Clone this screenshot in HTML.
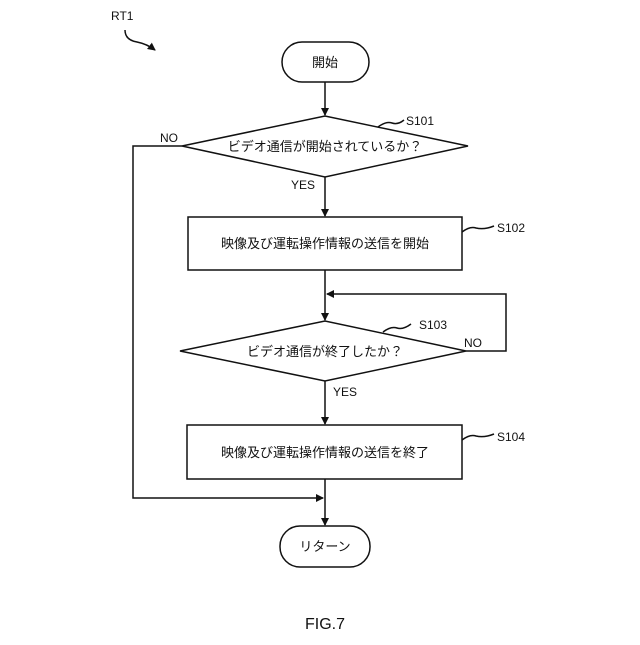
<!DOCTYPE html>
<html><head><meta charset="utf-8"><style>
body{margin:0;background:#fff}
svg text{font-family:"Liberation Sans","Noto Sans CJK JP",sans-serif;fill:#111}
</style></head><body>
<svg width="640" height="640" viewBox="0 0 640 640" xmlns="http://www.w3.org/2000/svg">
<defs><marker id="a" markerWidth="8" markerHeight="8" refX="7" refY="4" orient="auto" markerUnits="userSpaceOnUse"><path d="M0,0 L8,4 L0,8 z" fill="#111"/></marker></defs>
<g stroke="#111" stroke-width="1.5" fill="none">
<path d="M125,30 q0,10 12,12 q10,2 18,8" marker-end="url(#a)"/>
<rect x="282" y="42" width="87" height="40" rx="20" fill="#fff"/>
<line x1="325" y1="82" x2="325" y2="115" marker-end="url(#a)"/>
<polygon points="182,146 325,116 468,146 325,177" fill="#fff"/>
<line x1="325" y1="177" x2="325" y2="216" marker-end="url(#a)"/>
<rect x="188" y="217" width="274" height="53"/>
<line x1="325" y1="270" x2="325" y2="320" marker-end="url(#a)"/>
<polyline points="466,351 506,351 506,294 327,294" marker-end="url(#a)"/>
<polygon points="180,351 325,321 466,351 325,381" fill="#fff"/>
<line x1="325" y1="381" x2="325" y2="424" marker-end="url(#a)"/>
<rect x="187" y="425" width="275" height="54"/>
<line x1="325" y1="479" x2="325" y2="525" marker-end="url(#a)"/>
<polyline points="182,146 133,146 133,498 323,498" marker-end="url(#a)"/>
<rect x="280" y="526" width="90" height="41" rx="20" fill="#fff"/>
<path d="M378,127 q8,-6 14,-4 q6,2 12,-3"/>
<path d="M462,232 q8,-6 14,-4 q8,2 18,-2"/>
<path d="M383,332 q8,-6 14,-4 q6,2 14,-4"/>
<path d="M462,440 q8,-6 14,-4 q8,2 18,-2"/>
</g>
<g font-size="12">
<text x="111" y="20">RT1</text>
<text x="325" y="67" text-anchor="middle" font-size="13">開始</text>
<text x="406" y="125">S101</text>
<text x="160" y="142">NO</text>
<text x="325" y="151" text-anchor="middle" font-size="13">ビデオ通信が開始されているか？</text>
<text x="291" y="189">YES</text>
<text x="325" y="248" text-anchor="middle" font-size="13">映像及び運転操作情報の送信を開始</text>
<text x="497" y="232">S102</text>
<text x="419" y="329">S103</text>
<text x="464" y="347">NO</text>
<text x="325" y="356" text-anchor="middle" font-size="13">ビデオ通信が終了したか？</text>
<text x="333" y="396">YES</text>
<text x="325" y="457" text-anchor="middle" font-size="13">映像及び運転操作情報の送信を終了</text>
<text x="497" y="441">S104</text>
<text x="325" y="551" text-anchor="middle" font-size="13">リターン</text>
<text x="325" y="629" text-anchor="middle" font-size="16">FIG.7</text>
</g>
</svg>
</body></html>
